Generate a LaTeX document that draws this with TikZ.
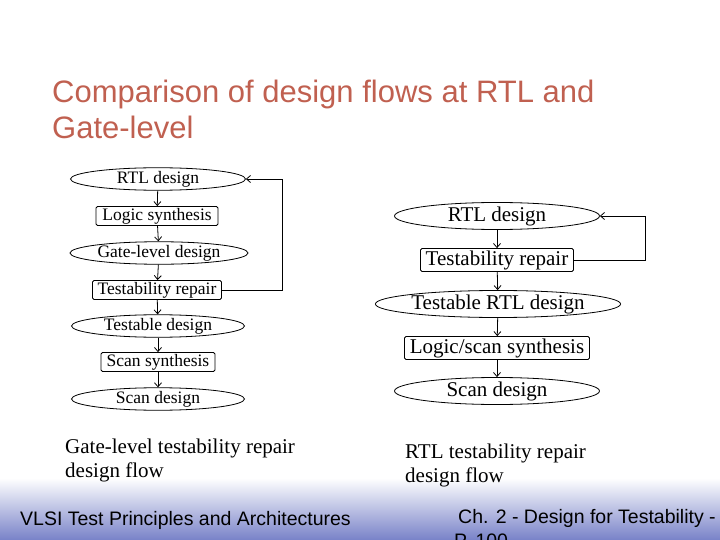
\documentclass[tikz,border=0pt]{standalone}
\usepackage{fontspec}
\setmainfont{Liberation Serif}
\newfontfamily\arial{Liberation Sans}
\usetikzlibrary{shapes.geometric,arrows.meta}
\definecolor{titlec}{RGB}{192,96,80}
\definecolor{footc}{RGB}{120,130,200}
\begin{document}
\begin{tikzpicture}[x=1pt,y=-1pt,
 ell/.style={draw,ellipse,inner sep=0pt,thick},
 box/.style={draw,rounded corners=1.5pt,inner sep=0pt,thick},
 arr/.style={-{Straight Barb[length=4pt,width=7pt]},thick}]
\useasboundingbox (0,0) rectangle (720,540);
\shade[top color=white,bottom color=footc] (0,478) rectangle (720,540);
\node[anchor=base west,text=titlec,font=\arial\fontsize{31}{34}\selectfont,inner sep=0pt] (t) at (52,103) {Comparison of design flows at RTL and};
\node[anchor=base west,text=titlec,font=\arial\fontsize{31}{34}\selectfont,inner sep=0pt] (t2) at (52,139) {Gate-level};
% left
\begin{scope}[font=\fontsize{17.5}{19}\selectfont]
\node[ell,minimum width=175,minimum height=19] (a1) at (158,179) {RTL design};
\node[box,minimum width=122,minimum height=19] (a2) at (157,216) {Logic synthesis};
\node[ell,minimum width=178,minimum height=19] (a3) at (159,253) {Gate-level design};
\node[box,minimum width=129,minimum height=19] (a4) at (157,290) {Testability repair};
\node[ell,minimum width=173,minimum height=19] (a5) at (158,326) {Testable design};
\node[box,minimum width=114,minimum height=19] (a6) at (158,362) {Scan synthesis};
\node[ell,minimum width=173,minimum height=19] (a7) at (158,399) {Scan design};
\end{scope}
\foreach \p/\q in {a1/a2,a2/a3,a3/a4,a4/a5,a5/a6,a6/a7}{\draw[arr] (\p) -- (\q);}
\coordinate (c1) at (282,290); \coordinate (c2) at (282,179);
\draw[arr] (a4.east) -- (c1) -- (c2) -- (a1.east);
% right
\begin{scope}[font=\fontsize{21}{23}\selectfont]
\node[ell,minimum width=205,minimum height=23] (b1) at (497,216) {RTL design};
\node[box,minimum width=153,minimum height=23] (b2) at (497,260) {Testability repair};
\node[ell,minimum width=207,minimum height=23] (b3) at (498,304) {Testable RTL design};
\node[box,minimum width=185,minimum height=23] (b4) at (497,348) {Logic/scan synthesis};
\node[ell,minimum width=205,minimum height=23] (b5) at (497,391) {Scan design};
\end{scope}
\foreach \p/\q in {b1/b2,b2/b3,b3/b4,b4/b5}{\draw[arr] (\p) -- (\q);}
\coordinate (d1) at (645,260); \coordinate (d2) at (645,216);
\draw[arr] (b2.east) -- (d1) -- (d2) -- (b1.east);
% captions
\begin{scope}[font=\fontsize{21}{23}\selectfont]
\node[anchor=base west,inner sep=0pt] (l1) at (65,453) {Gate-level testability repair};
\node[anchor=base west,inner sep=0pt] (l2) at (65,477) {design flow};
\node[anchor=base west,inner sep=0pt] (r1) at (405,458) {RTL testability repair};
\node[anchor=base west,inner sep=0pt] (r2) at (405,482) {design flow};
\end{scope}
\begin{scope}[font=\arial\fontsize{19.5}{21}\selectfont]
\node[anchor=base west,inner sep=0pt] (f1) at (20,525) {VLSI Test Principles and Architectures};
\node[anchor=base west,inner sep=0pt] (f2) at (458,523) {Ch. 2 - Design for Testability -};
\node[anchor=base west,inner sep=0pt] (f3) at (454,547) {P. 100};
\end{scope}
\end{tikzpicture}
\end{document}
